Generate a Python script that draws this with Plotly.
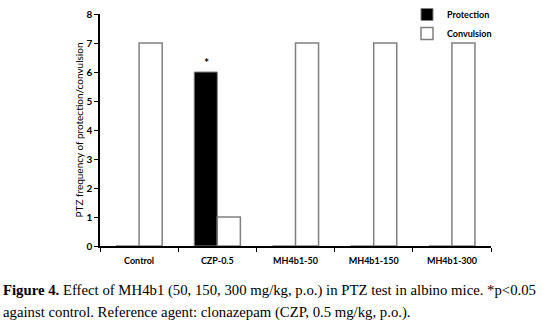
import plotly.graph_objects as go

categories = ["Control", "CZP-0.5", "MH4b1-50", "MH4b1-150", "MH4b1-300"]
protection = [0, 6, 0, 0, 0]
convulsion = [7, 1, 7, 7, 7]
y_ticks = [0, 1, 2, 3, 4, 5, 6, 7, 8]

FONT = "Lato"
fig = go.Figure()
fig.add_trace(go.Bar(x=categories, y=protection, name="Protection",
                     marker=dict(color="black", line=dict(color="#808080", width=1)),
                     legendgroup="a"))
fig.add_trace(go.Bar(x=categories, y=convulsion, name="Convulsion",
                     marker=dict(color="white", line=dict(color="#808080", width=1.5)),
                     legendgroup="b"))

fig.add_annotation(x="CZP-0.5", y=6, text="<b>*</b>", showarrow=False, yanchor="bottom",
                   xshift=-11, yshift=0, font=dict(family=FONT, size=12, color="black"))

PH = 232
cap1 = "<b>Figure 4.</b> Effect of MH4b1 (50, 150, 300 mg/kg, p.o.) in PTZ test in albino mice. *p&lt;0.05"
cap2 = "against control. Reference agent: clonazepam (CZP, 0.5 mg/kg, p.o.)."
for txt, yc in [(cap1, 290), (cap2, 312)]:
    fig.add_annotation(xref="paper", yref="paper", x=-99/391, y=(246 - yc)/PH,
                       xanchor="left", yanchor="middle", align="left", showarrow=False,
                       text=txt, font=dict(family="Liberation Serif", size=14.75, color="black"))

fig.update_layout(
    width=556, height=326,
    margin=dict(l=100, r=65, t=14, b=80, autoexpand=False),
    paper_bgcolor="white", plot_bgcolor="white",
    barmode="group", bargap=0.41, bargroupgap=0,
    showlegend=True,
    legend=dict(xref="container", yref="container", x=0.732, y=1.025, xanchor="left", yanchor="top",
                traceorder="grouped", tracegroupgap=0,
                font=dict(family=FONT, size=9, color="black", weight="bold"),
                bgcolor="rgba(0,0,0,0)", itemwidth=30),
    font=dict(family=FONT, color="black"),
)
fig.update_xaxes(showline=True, linecolor="black", linewidth=1.5, ticks="outside",
                 tickson="boundaries", ticklen=4, tickcolor="black", ticklabelstandoff=5,
                 tickfont=dict(family=FONT, size=9, color="black", weight="bold"),
                 showgrid=False, zeroline=False)
fig.update_yaxes(range=[0, 8], tickvals=y_ticks, showline=True, linecolor="black", linewidth=1.5,
                 ticks="outside", ticklen=4, tickcolor="black", showgrid=False, zeroline=False,
                 tickfont=dict(family=FONT, size=10, color="black", weight="bold"),
                 title=dict(text="PTZ frequency of protection/convulsion", standoff=1,
                            font=dict(family=FONT, size=10, color="black")))

fig.write_html("out.html", config={"displayModeBar": False},
               post_script="document.body.style.margin='0';")
